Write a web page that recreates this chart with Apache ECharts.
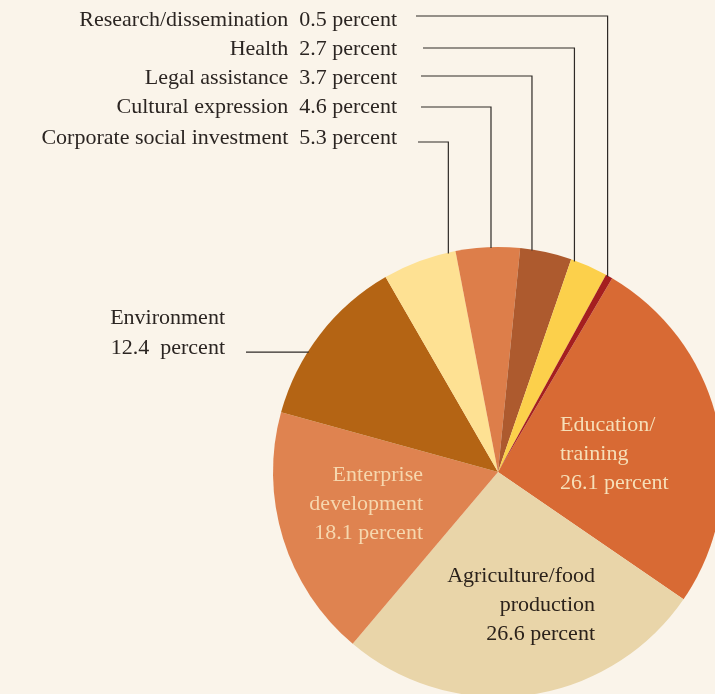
<!DOCTYPE html>
<html>
<head>
<meta charset="utf-8">
<script src="https://cdn.jsdelivr.net/npm/echarts@6/dist/echarts.min.js"></script>
<style>
  html, body { margin: 0; padding: 0; background: #faf4ea; }
  #main { width: 715px; height: 694px; }
</style>
</head>
<body>
<div id="main"></div>
<script>
// slices in clockwise order, starting just right of 12 o'clock
const categories = ['Education/\ntraining', 'Agriculture/food\nproduction', 'Enterprise\ndevelopment', 'Environment',
  'Corporate social investment', 'Cultural expression', 'Legal assistance', 'Health', 'Research/dissemination'];
const shares = [26.1, 26.6, 18.1, 12.4, 5.3, 4.6, 3.7, 2.7, 0.5];
const sliceColors = ['#d86a34', '#e9d5a9', '#df8350', '#b46414', '#fee193', '#dd7e4a', '#ad5a2e', '#fcd04b', '#a51f1f'];

// where each label sits (and how its leader line runs)
const spots = [
  { x: 560, y: 454, align: 'left', color: '#f6dfb8', lh: 29 },
  { x: 595, y: 605, align: 'right', color: '#2b221b', lh: 29 },
  { x: 423, y: 504, align: 'right', color: '#f6d7ae', lh: 29 },
  { x: 225, y: 333, align: 'right', color: '#2b2522', lh: 30, lead: { frac: 0.38, endX: 246, flat: true } },
  { x: 397, y: 138.5, align: 'right', color: '#2b2522', lh: 24, lead: { frac: 0.9, y: 142, startX: 418 } },
  { x: 397, y: 107.5, align: 'right', color: '#2b2522', lh: 24, lead: { frac: 0.55, y: 107, startX: 421 } },
  { x: 397, y: 78.5, align: 'right', color: '#2b2522', lh: 24, lead: { frac: 0.23, y: 76, startX: 421 } },
  { x: 397, y: 49, align: 'right', color: '#2b2522', lh: 24, lead: { frac: 0.1, y: 48, startX: 423 } },
  { x: 397, y: 20.5, align: 'right', color: '#2b2522', lh: 24, lead: { frac: 0.33, y: 16, startX: 416 } }
];

function labelText(i) {
  if (i < 3) return categories[i] + '\n' + shares[i] + ' percent';
  if (i === 3) return categories[i] + '\n' + shares[i] + '  percent';
  return categories[i] + '  ' + shares[i] + ' percent';
}

const chart = echarts.init(document.getElementById('main'));
chart.setOption({
  backgroundColor: '#faf4ea',
  animation: false,
  series: [{
    type: 'pie',
    center: [498, 472],
    radius: 225,
    startAngle: 59.5,
    clockwise: true,
    avoidLabelOverlap: false,
    emphasis: { disabled: true },
    itemStyle: { borderWidth: 0 },
    labelLine: { show: false },
    data: shares.map((v, i) => ({
      name: categories[i],
      value: v,
      itemStyle: { color: sliceColors[i] },
      label: {
        show: true,
        position: 'inside',
        formatter: () => labelText(i),
        fontFamily: 'Liberation Serif',
        fontSize: 22,
        lineHeight: spots[i].lh,
        color: spots[i].color,
        align: spots[i].align
      }
    })),
    labelLayout: p => ({
      x: spots[p.dataIndex].x,
      y: spots[p.dataIndex].y,
      align: spots[p.dataIndex].align,
      verticalAlign: 'middle'
    })
  }]
});

// leader lines, anchored on the slices the library laid out
const pieData = chart.getModel().getSeriesByIndex(0).getData();
const leaders = [];
spots.forEach((s, i) => {
  if (!s.lead) return;
  const L = pieData.getItemLayout(i);
  const a = L.startAngle + s.lead.frac * (L.endAngle - L.startAngle);
  const px = L.cx + (L.r - 1) * Math.cos(a);
  const py = L.cy + (L.r - 1) * Math.sin(a);
  const pts = s.lead.flat
    ? [[s.lead.endX, py], [px, py]]
    : [[s.lead.startX, s.lead.y], [px, s.lead.y], [px, py]];
  leaders.push({
    type: 'polyline',
    silent: true,
    z: 10,
    shape: { points: pts },
    style: { stroke: '#2e2a27', lineWidth: 1.2, fill: null }
  });
});
chart.setOption({ graphic: leaders });
</script>
</body>
</html>
